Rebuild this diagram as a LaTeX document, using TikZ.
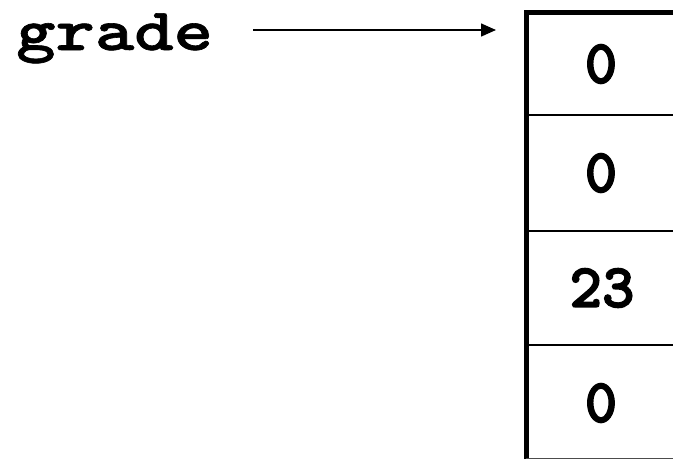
\documentclass[tikz,border=0pt]{standalone}
\usepackage{graphicx}
\usepackage{fontspec}
\newfontfamily\courdig{lmmonolt10-bold}[Extension=.otf, FakeBold=2.2]
\newfontfamily\courlbl{lmmonolt10-bold}[Extension=.otf, FakeBold=1]
\usetikzlibrary{arrows.meta}
\begin{document}
\begin{tikzpicture}[x=1pt,y=-1pt,
  lbl/.style={font=\courlbl\fontsize{60}{60}\selectfont, inner sep=0pt},
  cellval/.style={font=\courdig\fontsize{62}{62}\selectfont, inner sep=0pt},
  thin line/.style={line width=1.8pt},
  thick line/.style={line width=5pt},
  ptr/.style={line width=1.5pt, -{Triangle[length=15pt,width=13pt]}}]
\useasboundingbox (0,0) rectangle (673,459);
% array
\draw[thick line] (526,459) -- (526,12.5) -- (673,12.5);
\draw[thin line] (526,115) -- (673,115);
\draw[thin line] (526,231) -- (673,231);
\draw[thin line] (526,345) -- (673,345);
\draw[line width=1pt, black!70] (526,458.5) -- (673,458.5);
\node[cellval] (c0) at (601,64) {0};
\node[cellval] (c1) at (601,173) {0};
\node[cellval] (c2) at (602,288) {23};
\node[cellval] (c3) at (601,403) {0};
% label and pointer
\node[lbl, anchor=base west] (g) at (16,50) {\scalebox{1.25}[1]{grade}};
\coordinate (s) at (253,30);
\coordinate (t) at (496,30);
\draw[ptr] (s) -- (t);
\end{tikzpicture}
\end{document}
